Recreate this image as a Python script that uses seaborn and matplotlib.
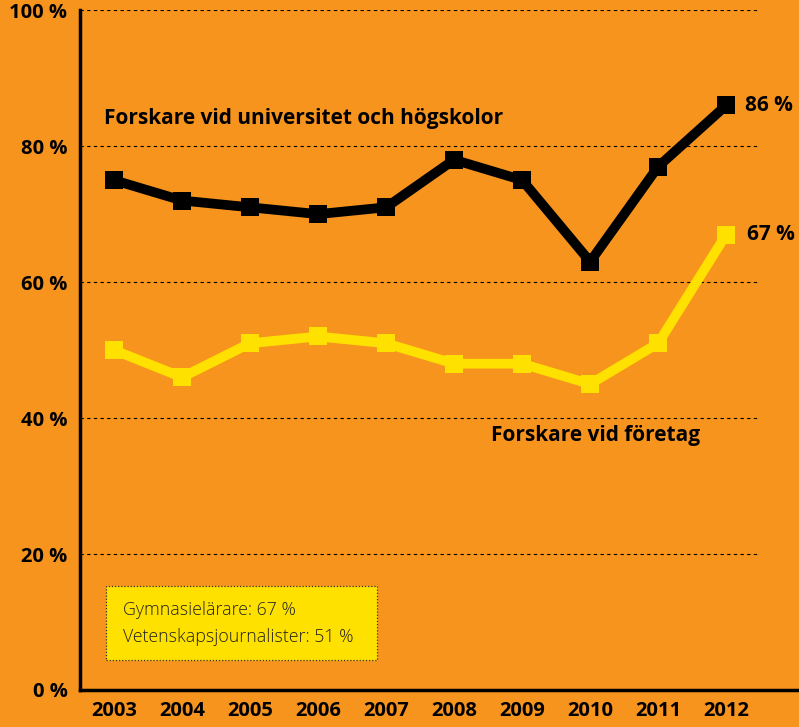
import matplotlib
matplotlib.use("Agg")
import matplotlib.pyplot as plt
from matplotlib.patches import Rectangle
import pandas as pd
import seaborn as sb

ar = [2003, 2004, 2005, 2006, 2007, 2008, 2009, 2010, 2011, 2012]
universitet = [75, 72, 71, 70, 71, 78, 75, 63, 77, 86]
foretag = [50, 46, 51, 52, 51, 48, 48, 45, 51, 67]
y_ticks = [0, 20, 40, 60, 80, 100]

orange = "#F7941D"
gul = "#FFE100"

df = pd.DataFrame({"ar": ar, "universitet": universitet, "foretag": foretag})

sb.set_style("white")
plt.rcParams["font.family"] = ["Open Sans", "DejaVu Sans"]
plt.rcParams["text.color"] = "black"
plt.rcParams["xtick.color"] = "black"
plt.rcParams["ytick.color"] = "black"

fig = plt.figure(figsize=(7.99, 7.27), dpi=100, facecolor=orange)
ax = fig.add_axes([0.1001, 0.0509, 0.8999, 0.9351])
ax.set_facecolor(orange)

# stödlinjer
for v in y_ticks[1:]:
    ax.hlines(v, 2002.5, 2012.5, colors="black", linestyles=(0, (3, 3)), linewidth=0.8, zorder=1)

sb.lineplot(data=df, x="ar", y="foretag", color=gul, linewidth=7, marker="s",
            markersize=13.5, markeredgewidth=0, ax=ax, zorder=3)
sb.lineplot(data=df, x="ar", y="universitet", color="black", linewidth=7, marker="s",
            markersize=13.5, markeredgewidth=0, ax=ax, zorder=4)

ax.set_xlim(2002.5, 2013.07)
ax.set_ylim(0, 100)
ax.set_xticks(ar)
ax.set_xticklabels([str(a) for a in ar], fontweight="bold", fontsize=14.5)
ax.set_yticks(y_ticks)
ax.set_yticklabels([f"{v} %" for v in y_ticks], fontweight="bold", fontsize=14.5)
ax.tick_params(axis="y", length=0, pad=9, labelcolor="black")
ax.tick_params(axis="x", length=0, pad=8, labelcolor="black")
ax.set_xlabel("")
ax.set_ylabel("")

for s in ["top", "right"]:
    ax.spines[s].set_visible(False)
ax.spines["left"].set_linewidth(2.5)
ax.spines["bottom"].set_linewidth(2.5)
ax.spines["left"].set_color("black")
ax.spines["bottom"].set_color("black")
ax.spines["left"].set_bounds(0, 100)

ax.text(2002.86, 84.1, "Forskare vid universitet och högskolor", fontsize=15,
        fontweight="bold", va="center", ha="left")
ax.text(2008.54, 37.5, "Forskare vid företag", fontsize=15,
        fontweight="bold", va="center", ha="left")
ax.text(2012.28, 86, "86 %", fontsize=15, fontweight="bold", va="center", ha="left")
ax.text(2012.3, 67, "67 %", fontsize=15, fontweight="bold", va="center", ha="left")

ax.add_patch(Rectangle((2002.88, 4.4), 3.99, 10.9, facecolor=gul, edgecolor="#333333",
                       linestyle=(0, (1, 1.5)), linewidth=0.9, zorder=2))
ax.text(2003.13, 11.8, "Gymnasielärare: 67 %", fontsize=12.8, fontweight="light",
        va="center", ha="left", color="#222222", zorder=3)
ax.text(2003.13, 7.8, "Vetenskapsjournalister: 51 %", fontsize=12.8, fontweight="light",
        va="center", ha="left", color="#222222", zorder=3)

plt.savefig("out.png", facecolor=orange)
